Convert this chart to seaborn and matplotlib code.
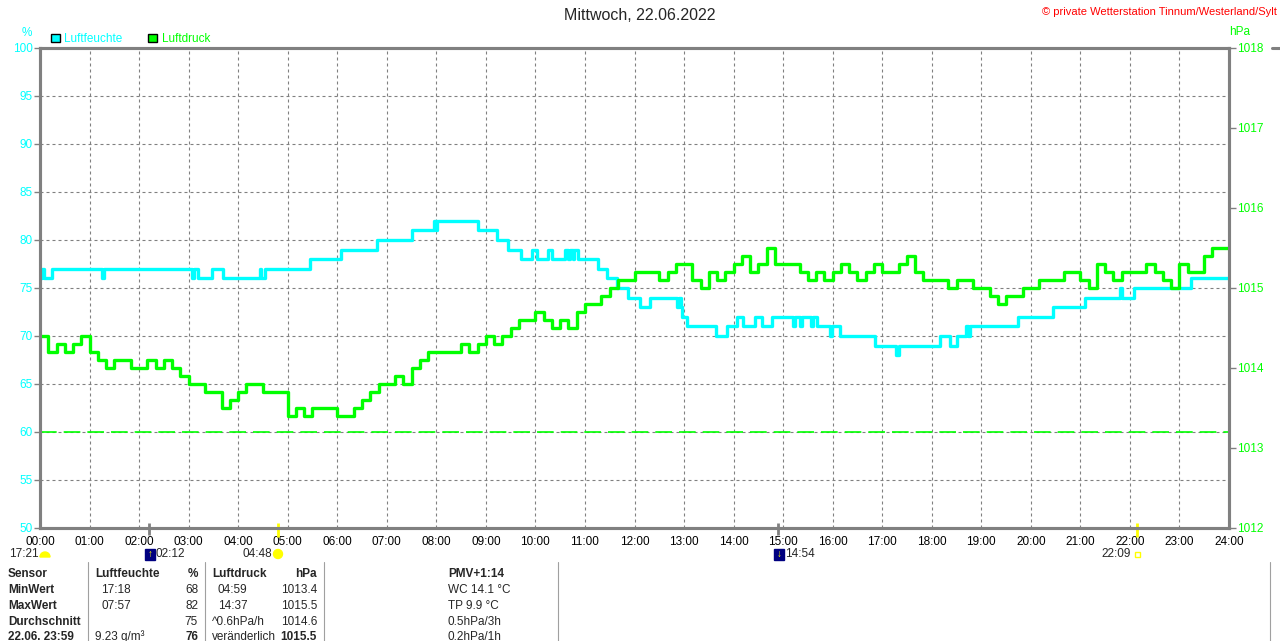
import numpy as np
import pandas as pd
import matplotlib
matplotlib.use('Agg')
import matplotlib.pyplot as plt
from matplotlib.patches import Patch, Rectangle, Circle, Wedge
import seaborn as sns

# humidity (%) - change points of the stepped curve
hum_times = ['00:00', '00:03', '00:05', '00:15', '01:15', '01:17', '03:04', '03:06', '03:11', '03:28',
             '03:42', '04:26', '04:28', '04:33', '05:27', '06:05', '06:48', '07:30', '07:57', '07:59',
             '08:01', '08:50', '09:13', '09:27', '09:43', '09:56', '10:02', '10:15', '10:20', '10:36',
             '10:39', '10:42', '10:45', '10:47', '10:51', '11:16', '11:27', '11:39', '11:52', '12:07',
             '12:19', '12:52', '12:54', '12:56', '12:58', '13:03', '13:39', '13:52', '14:04', '14:11',
             '14:26', '14:35', '14:46', '15:12', '15:14', '15:20', '15:23', '15:34', '15:36', '15:41',
             '15:57', '15:59', '16:09', '16:51', '17:17', '17:20', '18:10', '18:22', '18:31', '18:42',
             '18:44', '18:46', '19:44', '20:27', '21:05', '21:48', '21:51', '22:05', '23:14', '24:00']
hum_values = [76, 77, 76, 77, 76, 77, 76, 77, 76, 77,
              76, 77, 76, 77, 78, 79, 80, 81, 82, 81,
              82, 81, 80, 79, 78, 79, 78, 79, 78, 79,
              78, 79, 78, 79, 78, 77, 76, 75, 74, 73,
              74, 73, 74, 73, 72, 71, 70, 71, 72, 71,
              72, 71, 72, 71, 72, 71, 72, 71, 72, 71,
              70, 71, 70, 69, 68, 69, 70, 69, 70, 71,
              70, 71, 72, 73, 74, 75, 74, 75, 76, 76]

# air pressure (hPa), one reading every 10 minutes, 00:00 .. 24:00
press_values = [
    1014.4, 1014.2, 1014.3, 1014.2, 1014.3, 1014.4,
    1014.2, 1014.1, 1014.0, 1014.1, 1014.1, 1014.0,
    1014.0, 1014.1, 1014.0, 1014.1, 1014.0, 1013.9,
    1013.8, 1013.8, 1013.7, 1013.7, 1013.5, 1013.6,
    1013.7, 1013.8, 1013.8, 1013.7, 1013.7, 1013.7,
    1013.4, 1013.5, 1013.4, 1013.5, 1013.5, 1013.5,
    1013.4, 1013.4, 1013.5, 1013.6, 1013.7, 1013.8,
    1013.8, 1013.9, 1013.8, 1014.0, 1014.1, 1014.2,
    1014.2, 1014.2, 1014.2, 1014.3, 1014.2, 1014.3,
    1014.4, 1014.3, 1014.4, 1014.5, 1014.6, 1014.6,
    1014.7, 1014.6, 1014.5, 1014.6, 1014.5, 1014.7,
    1014.8, 1014.8, 1014.9, 1015.0, 1015.1, 1015.1,
    1015.2, 1015.2, 1015.2, 1015.1, 1015.2, 1015.3,
    1015.3, 1015.1, 1015.0, 1015.2, 1015.1, 1015.2,
    1015.3, 1015.4, 1015.2, 1015.3, 1015.5, 1015.3,
    1015.3, 1015.3, 1015.2, 1015.1, 1015.2, 1015.1,
    1015.2, 1015.3, 1015.2, 1015.1, 1015.2, 1015.3,
    1015.2, 1015.2, 1015.3, 1015.4, 1015.2, 1015.1,
    1015.1, 1015.1, 1015.0, 1015.1, 1015.1, 1015.0,
    1015.0, 1014.9, 1014.8, 1014.9, 1014.9, 1015.0,
    1015.0, 1015.1, 1015.1, 1015.1, 1015.2, 1015.2,
    1015.1, 1015.0, 1015.3, 1015.2, 1015.1, 1015.2,
    1015.2, 1015.2, 1015.3, 1015.2, 1015.1, 1015.0,
    1015.3, 1015.2, 1015.2, 1015.4, 1015.5, 1015.5,
    1015.5]

hour_labels = ['%02d:00' % h for h in range(25)]
hum_ticks = list(range(50, 101, 5))
press_ticks = list(range(1012, 1019))
press_reference = 1013.2

# sun / moon events shown below the time axis
moon_rise, moon_set = '02:12', '14:54'
sun_rise, sun_set = '04:48', '22:09'

# statistics table under the chart
tab_sensor = ['Sensor', 'MinWert', 'MaxWert', 'Durchschnitt', '22.06. 23:59']
tab_hum_time = ['Luftfeuchte', '17:18', '07:57', '', '9.23 g/m³']
tab_hum_val = ['%', '68', '82', '75', '76']
tab_press_time = ['Luftdruck', '04:59', '14:37', '^0.6hPa/h', 'veränderlich']
tab_press_val = ['hPa', '1013.4', '1015.5', '1014.6', '1015.5']
tab_pmv = ['PMV+1:14', 'WC 14.1 °C', 'TP 9.9 °C', '0.5hPa/3h', '0.2hPa/1h']

CYAN = '#00FFFF'
GREEN = '#00FF00'
GRAY = '#808080'
W, H = 1280, 641


def to_hours(t):
    h, m = t.split(':')
    return int(h) + int(m) / 60


def fx(x):
    return x / W


def fy(y):
    return 1 - y / H


df_hum = pd.DataFrame({'hour': [to_hours(t) for t in hum_times], 'value': hum_values})
df_press = pd.DataFrame({'hour': np.arange(len(press_values)) / 6, 'value': press_values})

sns.set_style('white')
plt.rcParams['font.family'] = ['Liberation Sans', 'DejaVu Sans']

fig = plt.figure(figsize=(12.8, 6.41), dpi=100)
ax = fig.add_axes([fx(40), fy(528), 1189 / W, 480 / H])
ax2 = ax.twinx()

sns.lineplot(data=df_hum, x='hour', y='value', ax=ax, color=CYAN, lw=2.4,
             drawstyle='steps-post', estimator=None)
sns.lineplot(data=df_press, x='hour', y='value', ax=ax2, color=GREEN, lw=2.4,
             drawstyle='steps-post', estimator=None)
ax2.axhline(press_reference, color=GREEN, lw=1.2, ls=(0, (10, 4.2)))

ax.set_xlim(0, 24)
ax.set_ylim(50, 100)
ax2.set_ylim(1012, 1018)
ax.set_xticks(range(25))
ax.set_xticklabels(hour_labels)
ax.set_yticks(hum_ticks)
ax2.set_yticks(press_ticks)
for a in (ax, ax2):
    a.set_xlabel('')
    a.set_ylabel('')
    for s in a.spines.values():
        s.set_color(GRAY)
        s.set_linewidth(2.2)

ax.set_axisbelow(True)
ax.grid(True, color=GRAY, ls=(0, (2.7, 2.7)), lw=0.8)
ax2.grid(False)

ax.tick_params(axis='y', left=True, colors=GRAY, labelcolor=CYAN, length=4, width=1,
               pad=1, labelsize=8.5)
ax.tick_params(axis='x', bottom=False, length=0, pad=6, labelsize=8.5, labelcolor='black')
ax2.tick_params(axis='y', right=True, colors=GRAY, labelcolor=GREEN, length=5, width=1,
                pad=1, labelsize=8.5)

# legend above the chart
handles = [Patch(facecolor=CYAN, edgecolor='black', lw=1, label='Luftfeuchte'),
           Patch(facecolor=GREEN, edgecolor='black', lw=1, label='Luftdruck')]
leg = ax.legend(handles=handles, loc='lower left', bbox_to_anchor=(0.009, 1.006), ncol=2,
                frameon=False, handlelength=0.75, handleheight=0.75, handletextpad=0.4,
                columnspacing=2.2, borderpad=0, borderaxespad=0, fontsize=8.5)
for txt, c in zip(leg.get_texts(), [CYAN, GREEN]):
    txt.set_color(c)

# titles and axis units
fig.text(0.5, fy(15), 'Mittwoch, 22.06.2022', ha='center', va='center', fontsize=11.5)
fig.text(fx(1277), fy(12), '© private Wetterstation Tinnum/Westerland/Sylt', ha='right',
         va='center', fontsize=8, color='red')
fig.text(fx(27), fy(33), '%', ha='center', va='center', fontsize=8.5, color=CYAN)
fig.text(fx(1240), fy(32), 'hPa', ha='center', va='center', fontsize=8.5, color=GREEN)

# moon / sun markers on the time axis
trans = ax.get_xaxis_transform()
ax.vlines([to_hours(moon_rise), to_hours(moon_set)], -0.015, 0.01, color=GRAY, lw=2,
          transform=trans, clip_on=False)
ax.vlines([to_hours(sun_rise), to_hours(sun_set)], -0.019, 0.011, color='#FFFF00', lw=2,
          transform=trans, clip_on=False)

inch = fig.dpi_scale_trans


def pin(x, y):
    return (x / 100, (H - y) / 100)


ev_y = 554
fig.text(fx(9), fy(ev_y), '17:21', ha='left', va='center', fontsize=8.5)
fig.add_artist(Wedge(pin(45, ev_y + 3), 0.05, 0, 180, color='#FFFF00', transform=inch))
for x0, arrow in [(145, '↑'), (774, '↓')]:
    fig.add_artist(Rectangle(pin(x0, ev_y + 6), 0.1, 0.11, color='#000080', transform=inch))
    fig.text(fx(x0 + 5), fy(ev_y), arrow, ha='center', va='center', fontsize=7,
             color='#FFFF00', fontweight='bold')
fig.text(fx(156), fy(ev_y), moon_rise, ha='left', va='center', fontsize=8.5)
fig.text(fx(785), fy(ev_y), moon_set, ha='left', va='center', fontsize=8.5)
fig.text(fx(272), fy(ev_y), sun_rise, ha='right', va='center', fontsize=8.5)
fig.add_artist(Circle(pin(278, ev_y), 0.045, color='#FFFF00', transform=inch))
fig.text(fx(1131), fy(ev_y), sun_set, ha='right', va='center', fontsize=8.5)
fig.add_artist(Rectangle(pin(1135, ev_y + 3), 0.05, 0.05, fill=False, edgecolor='#FFFF00',
                         lw=1, transform=inch))

# statistics table
row_y = [574, 590, 606, 622, 637]
for i, y in enumerate(row_y):
    head = 'bold' if i == 0 else 'normal'
    fig.text(fx(8), fy(y), tab_sensor[i], ha='left', va='center', fontsize=8.5,
             fontweight='bold')
    fig.text(fx(95 if i in (0, 4) else 101), fy(y), tab_hum_time[i], ha='left', va='center',
             fontsize=8.5, fontweight=head)
    fig.text(fx(198), fy(y), tab_hum_val[i], ha='right', va='center', fontsize=8.5,
             fontweight='bold' if i in (0, 4) else 'normal')
    fig.text(fx(212 if i in (0, 3, 4) else 218), fy(y), tab_press_time[i], ha='left',
             va='center', fontsize=8.5, fontweight=head)
    fig.text(fx(317), fy(y), tab_press_val[i], ha='right', va='center', fontsize=8.5,
             fontweight='bold' if i in (0, 4) else 'normal')
    fig.text(fx(448), fy(y), tab_pmv[i], ha='left', va='center', fontsize=8.5,
             fontweight=head)

for xd in [88, 205, 324, 558, 1270]:
    fig.add_artist(plt.Line2D([fx(xd), fx(xd)], [fy(562), 0], color='#A0A0A0', lw=0.8))

# edge of the neighbouring chart
fig.add_artist(plt.Line2D([fx(1272), 1], [fy(48), fy(48)], color=GRAY, lw=2.2))

fig.savefig('out.png', dpi=100)
